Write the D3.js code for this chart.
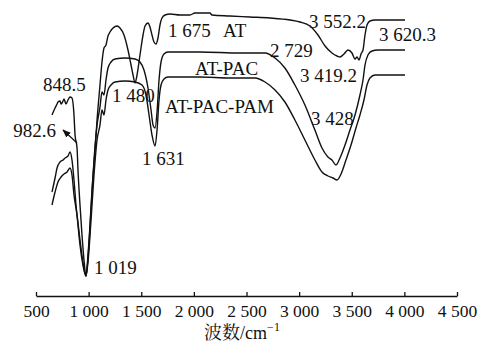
<!DOCTYPE html>
<html>
<head>
<meta charset="utf-8">
<script src="https://cdn.jsdelivr.net/npm/d3@7"></script>
<style>
  body { margin: 0; background: #fff; }
  svg text { font-family: "Liberation Serif", "Times New Roman", "Noto Serif CJK SC", "Noto Sans CJK SC", serif; fill: #111; }
</style>
</head>
<body>
<figure id="ftir" style="margin:0"></figure>
<script>
// wavenumber (cm-1) / relative transmittance (arbitrary units)
const atWave = [652, 681, 700, 709, 728, 738, 757, 766, 785, 804, 823, 842, 861, 871, 890, 899, 918, 937, 956, 975,
  994, 1013, 1032, 1061, 1080, 1108, 1127, 1146, 1165, 1184, 1203, 1232, 1270, 1298, 1336, 1374, 1403, 1422, 1441, 1460,
  1488, 1517, 1536, 1564, 1583, 1602, 1621, 1640, 1659, 1678, 1697, 1726, 1773, 1868, 1963, 2010, 2153, 2172, 2343, 2533,
  2723, 2913, 3008, 3103, 3179, 3246, 3312, 3360, 3388, 3426, 3464, 3502, 3531, 3550, 3569, 3588, 3607, 3626, 3645, 3673, 3721, 4006];
const atT = [87.5, 91, 93, 94, 94.5, 93, 94.5, 95.5, 93, 95, 96.5, 96, 87.5, 77.5, 71, 60, 42.5, 27.5, 15, 7,
  17.5, 32.5, 50, 70, 85, 102.5, 114, 121, 122.5, 127, 129, 131, 132, 131, 127.5, 120, 112.5, 107.5, 103.5, 107.5,
  117.5, 127.5, 132, 133.5, 131.5, 127.5, 124, 123, 126, 132.5, 136, 137.5, 138, 137.5, 137.5, 138.5, 138.5, 137.5, 137, 136.5,
  136, 135, 134, 132, 127.5, 122, 118.5, 117, 116.5, 118, 120, 118.5, 115.5, 116.5, 115, 118, 120, 127.5, 132.5, 134.5, 135, 135];

const pacWave = [652, 681, 700, 728, 757, 776, 804, 823, 842, 861, 880, 899, 918, 946, 975, 994, 1023, 1051, 1080, 1108,
  1127, 1146, 1165, 1184, 1213, 1251, 1346, 1441, 1488, 1526, 1564, 1593, 1612, 1631, 1650, 1669, 1688, 1716, 1754, 2058,
  2438, 2676, 2771, 2865, 2960, 3055, 3150, 3217, 3274, 3312, 3350, 3388, 3436, 3483, 3531, 3578, 3607, 3626, 3654, 3692, 3749, 4006];
const pacT = [49, 56, 61, 64, 65, 66, 67, 69, 65, 55, 42.5, 32.5, 22.5, 12.5, 7, 16, 40, 65, 82.5, 91.5,
  99, 97.5, 105, 111, 114, 115.5, 116, 115.5, 114, 110, 101, 90, 82.5, 81, 89, 105, 114, 118, 119, 119,
  118.5, 118.5, 116, 111, 102.5, 92.5, 80, 71, 66.5, 65, 62.5, 66, 72.5, 80, 87.5, 97.5, 105, 112.5, 117.5, 119.5, 120, 120];

const pamWave = [652, 681, 709, 738, 766, 795, 823, 842, 861, 890, 918, 946, 975, 994, 1023, 1051, 1080, 1108, 1127, 1146,
  1165, 1184, 1213, 1251, 1346, 1441, 1507, 1545, 1574, 1602, 1631, 1650, 1669, 1688, 1716, 1754, 2058, 2343, 2581, 2676,
  2771, 2865, 2960, 3055, 3150, 3217, 3274, 3322, 3360, 3398, 3445, 3493, 3540, 3578, 3616, 3645, 3673, 3721, 4006];
const pamT = [42.5, 49, 54, 56.5, 58, 59, 61, 57.5, 47.5, 37.5, 25, 14, 7, 14, 35, 57.5, 75, 82.5, 90, 87.5,
  95, 100, 102.5, 104, 104.5, 104, 102.5, 97.5, 87.5, 77.5, 72, 80, 95, 102.5, 105.5, 106.5, 106.5, 106, 106, 104,
  100, 94, 85, 75, 65, 59, 57, 56, 55, 58, 65, 72.5, 81, 87.5, 95, 102.5, 106, 107.5, 107.5];

const xTicks = [500, 1000, 1500, 2000, 2500, 3000, 3500, 4000, 4500];

// peak / curve labels: text, wavenumber, transmittance, anchor
const labelText = ["848.5", "982.6", "1 019", "1 480", "1 631", "1 675", "AT", "AT-PAC", "AT-PAC-PAM",
  "2 729", "3 552.2", "3 419.2", "3 428", "3 620.3"];
const labelWave = [567, 690, 1051, 1222, 1507, 1754, 2277, 2011, 1726, 2723, 3094, 3008, 3113, 3759];
const labelT = [99.5, 76.5, 8, 94, 62.5, 126.5, 126.5, 107.5, 88.5, 116.5, 131, 104, 82.5, 124.5];
const labelAnchor = ["start", "end", "start", "start", "start", "start", "start", "start", "start",
  "start", "start", "start", "start", "start"];

const width = 485, height = 349;

const svg = d3.select("figure#ftir")
  .append("svg")
  .attr("width", width)
  .attr("height", height);

const x = d3.scaleLinear().domain([500, 4500]).range([36, 457]);
const y = d3.scaleLinear().domain([0, 140]).range([290, 10]);

// x axis, ticks pointing up into the plot
const fmt = d => d3.format(",")(d).replace(",", " ");
const axis = svg.append("g")
  .attr("transform", "translate(0,296)")
  .call(d3.axisBottom(x).tickValues(xTicks).tickSizeInner(-4).tickSizeOuter(0).tickPadding(9).tickFormat(fmt));
axis.select(".domain").attr("stroke", "#111").attr("stroke-width", 1.3);
axis.selectAll(".tick line").attr("stroke", "#111").attr("stroke-width", 1.3);
axis.selectAll(".tick text").style("font-size", "17.5px").attr("fill", "#111");

// axis title
const title = svg.append("text")
  .attr("x", 242)
  .attr("y", 339)
  .attr("text-anchor", "middle")
  .style("font-size", "18px");
title.append("tspan").text("波数/cm");
title.append("tspan").attr("dy", -8).style("font-size", "12px").text("−1");

// spectra
const line = d3.line()
  .x(d => x(d[0]))
  .y(d => y(d[1]))
  .curve(d3.curveMonotoneX);

[[atWave, atT], [pacWave, pacT], [pamWave, pamT]].forEach(([w, t]) => {
  svg.append("path")
    .datum(w.map((v, i) => [v, t[i]]))
    .attr("fill", "none")
    .attr("stroke", "#111")
    .attr("stroke-width", 1.4)
    .attr("stroke-linejoin", "round")
    .attr("d", line);
});

// labels
labelText.forEach((s, i) => {
  svg.append("text")
    .attr("x", x(labelWave[i]))
    .attr("y", y(labelT[i]))
    .attr("text-anchor", labelAnchor[i])
    .style("font-size", "19px")
    .text(s);
});

// arrow pointing at the 982.6 label
svg.append("defs").append("marker")
  .attr("id", "head")
  .attr("viewBox", "0 0 10 10")
  .attr("refX", 9).attr("refY", 5)
  .attr("markerWidth", 7).attr("markerHeight", 7)
  .attr("orient", "auto")
  .append("path").attr("d", "M0,1L10,5L0,9z").attr("fill", "#111");
svg.append("line")
  .attr("x1", x(890)).attr("y1", y(73.5))
  .attr("x2", x(757)).attr("y2", y(80))
  .attr("stroke", "#111")
  .attr("stroke-width", 1.2)
  .attr("marker-end", "url(#head)");
</script>
</body>
</html>
